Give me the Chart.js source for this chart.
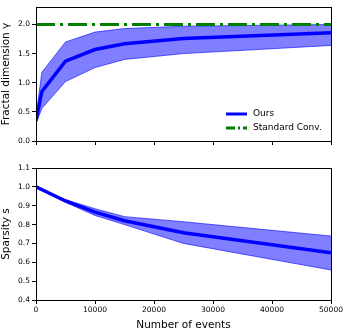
<!DOCTYPE html>
<html>
<head>
<meta charset="utf-8">
<script src="https://cdn.jsdelivr.net/npm/chart.js@4"></script>
<style>
  body { margin: 0; background: #fff; }
  #wrap { position: relative; width: 349px; height: 332px; }
  #wrap div { position: absolute; left: 0; width: 349px; }
</style>
</head>
<body>
<div id="wrap">
  <div style="top:0;height:160px"><canvas id="topChart"></canvas></div>
  <div style="top:160px;height:172px"><canvas id="bottomChart"></canvas></div>
</div>
<script>
// number of events (x)
const eventsTop = [0, 1000, 5000, 10000, 15000, 25000, 50000];
const dimMean = [0.35, 0.85, 1.37, 1.57, 1.67, 1.76, 1.86];
const dimUpper = [0.42, 1.18, 1.70, 1.87, 1.93, 1.97, 2.00];
const dimLower = [0.30, 0.56, 1.02, 1.26, 1.40, 1.50, 1.64];
const standardConv = [2.0, 2.0];
const standardX = [0, 50000];

const eventsBottom = [0, 5000, 10000, 15000, 25000, 50000];
const sparsMean = [1.0, 0.925, 0.866, 0.82, 0.757, 0.651];
const sparsUpper = [1.0, 0.932, 0.884, 0.842, 0.815, 0.739];
const sparsLower = [1.0, 0.918, 0.848, 0.800, 0.700, 0.559];

const xTicks = [0, 10000, 20000, 30000, 40000, 50000];
const legendLabels = ['Ours', 'Standard Conv.'];

const font = "'DejaVu Sans', sans-serif";
const BLUE = '#0000ff';
const BAND = 'rgba(0,0,255,0.5)';
const GREEN = '#008000';

function pts(xs, ys) { return xs.map((x, i) => ({ x: x, y: ys[i] })); }

// black box around the plot area
const frame = {
  id: 'frame',
  afterDatasetsDraw(chart) {
    const a = chart.chartArea, c = chart.ctx;
    c.save();
    c.strokeStyle = '#000';
    c.lineWidth = 1;
    c.strokeRect(Math.round(a.left) + 0.5, Math.round(a.top) + 0.5,
      Math.round(a.right - a.left), Math.round(a.bottom - a.top));
    c.restore();
  }
};

// legend in the lower right corner of the top panel
const cornerLegend = {
  id: 'cornerLegend',
  afterDraw(chart) {
    const a = chart.chartArea, c = chart.ctx;
    const items = [
      { label: legendLabels[0], color: BLUE, dash: [] },
      { label: legendLabels[1], color: GREEN, dash: [9, 3, 2, 3] }
    ];
    c.save();
    c.font = '9px ' + font;
    c.textBaseline = 'middle';
    items.forEach((it, i) => {
      const y = 114 + i * 14;
      c.strokeStyle = it.color;
      c.lineWidth = 3;
      c.setLineDash(it.dash);
      c.beginPath();
      c.moveTo(226, y);
      c.lineTo(247, y);
      c.stroke();
      c.setLineDash([]);
      c.fillStyle = '#000';
      c.fillText(it.label, 253, y);
    });
    c.restore();
  }
};

function xScale(showLabels, height) {
  return {
    type: 'linear', min: 0, max: 50000,
    afterBuildTicks: s => { s.ticks = xTicks.map(v => ({ value: v })); },
    afterFit: s => { s.height = height; },
    grid: { drawOnChartArea: false, drawTicks: true, tickLength: 4, color: '#000' },
    border: { color: '#000' },
    ticks: {
      display: showLabels, color: '#000', padding: 2, maxRotation: 0,
      font: { family: font, size: 7.5 }, callback: v => String(v)
    },
    title: {
      display: showLabels, text: 'Number of events', color: '#000',
      font: { family: font, size: 10.5 }, padding: { top: 1, bottom: 0 }
    }
  };
}

function yScale(min, max, step, title) {
  return {
    min: min, max: max,
    afterBuildTicks: s => {
      const t = [];
      for (let v = min; v <= max + 1e-9; v += step) t.push({ value: Math.round(v * 100) / 100 });
      s.ticks = t;
    },
    afterFit: s => { s.width = 36; },
    grid: { drawOnChartArea: false, drawTicks: true, tickLength: 4, color: '#000' },
    border: { color: '#000' },
    ticks: { color: '#000', padding: 2, font: { family: font, size: 7.5 }, callback: v => v.toFixed(1) },
    title: { display: true, text: title, color: '#000', font: { family: font, size: 10.5 }, padding: { top: 0, bottom: 0 } }
  };
}

const common = {
  responsive: true, maintainAspectRatio: false, animation: false,
  plugins: { legend: { display: false }, tooltip: { enabled: false } },
  elements: { point: { radius: 0 }, line: { tension: 0 } }
};

new Chart(document.getElementById('topChart'), {
  type: 'line',
  data: {
    datasets: [
      { label: 'Standard Conv.', data: pts(standardX, standardConv), borderColor: GREEN, borderWidth: 3,
        borderDash: [19, 5, 3, 5], fill: false, order: 0 },
      { label: 'Ours', data: pts(eventsTop, dimMean), borderColor: BLUE, borderWidth: 3.5, fill: false, order: 1 },
      { label: 'upper', data: pts(eventsTop, dimUpper), borderColor: BLUE, borderWidth: 0.6, fill: false, order: 2 },
      { label: 'lower', data: pts(eventsTop, dimLower), borderColor: BLUE, borderWidth: 0.6,
        backgroundColor: BAND, fill: '-1', order: 3 }
    ]
  },
  options: Object.assign({}, common, {
    layout: { padding: { top: 7, right: 18, left: 0, bottom: 0 } },
    scales: { x: xScale(false, 19), y: yScale(0, 2.3, 0.5, 'Fractal dimension γ') }
  }),
  plugins: [frame, cornerLegend]
});

new Chart(document.getElementById('bottomChart'), {
  type: 'line',
  data: {
    datasets: [
      { label: 'mean', data: pts(eventsBottom, sparsMean), borderColor: BLUE, borderWidth: 3.5, fill: false, order: 1 },
      { label: 'upper', data: pts(eventsBottom, sparsUpper), borderColor: BLUE, borderWidth: 0.6, fill: false, order: 2 },
      { label: 'lower', data: pts(eventsBottom, sparsLower), borderColor: BLUE, borderWidth: 0.6,
        backgroundColor: BAND, fill: '-1', order: 3 }
    ]
  },
  options: Object.assign({}, common, {
    layout: { padding: { top: 8, right: 18, left: 0, bottom: 0 } },
    scales: { x: xScale(true, 32), y: yScale(0.4, 1.1, 0.1, 'Sparsity s') }
  }),
  plugins: [frame]
});
</script>
</body>
</html>
